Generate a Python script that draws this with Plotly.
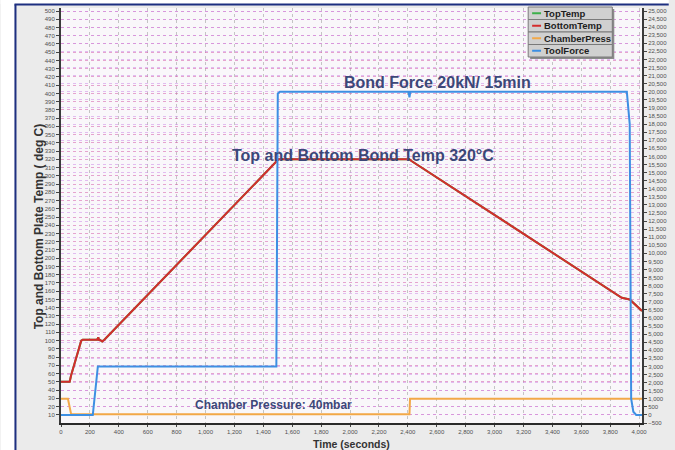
import plotly.graph_objects as go

# ---- process data -------------------------------------------------------
# plate temperatures (deg C) vs time (s)
temp_time = [0, 60, 70, 140, 150, 250, 258, 263, 268, 285, 300, 1505, 1520,
             2410, 2425, 3880, 3935, 4020]
top_temp = [50, 50, 58, 100, 101, 101, 104, 100, 101, 99, 101, 320, 320,
            320, 318, 152, 150, 136]
bottom_temp = [50, 50, 58, 100, 101, 101, 104, 100, 101, 99, 101, 320, 320,
               320, 318, 152, 150, 136]

# chamber pressure (mbar) vs time (s)
press_time = [0, 48, 70, 2411, 2415, 4020]
chamber_press = [1000, 1000, 40, 40, 1000, 1000]

# tool force (N) vs time (s)
force_time = [0, 220, 255, 1490, 1500, 1515, 2405, 2411, 2417, 3915, 3935,
              3945, 3960, 3980, 4020]
tool_force = [0, 0, 3000, 3000, 19900, 20000, 20000, 19650, 20000, 20000,
              18000, 1000, 200, 0, 0]

series_names = ["TopTemp", "BottomTemp", "ChamberPress", "ToolForce"]
series_colors = ["#3cb04a", "#d42c2c", "#f2a848", "#3d8fe3"]

x_ticks = list(range(0, 4001, 200))
left_ticks = list(range(10, 501, 10))
right_ticks = list(range(-500, 25001, 500))

# ---- geometry (pixels) --------------------------------------------------
W, H = 675, 450
PL, PR, PT, PB = 61, 648, 8, 423


def px(p):
    return (p - PL) / (PR - PL)


def py(p):
    return (PB - p) / (PB - PT)


fig = go.Figure()

fig.add_trace(go.Scatter(x=temp_time, y=top_temp, mode="lines",
                         line=dict(color=series_colors[0], width=2),
                         name=series_names[0]))
fig.add_trace(go.Scatter(x=temp_time, y=bottom_temp, mode="lines",
                         line=dict(color=series_colors[1], width=2),
                         name=series_names[1]))
fig.add_trace(go.Scatter(x=press_time, y=chamber_press, mode="lines",
                         line=dict(color=series_colors[2], width=2),
                         name=series_names[2], yaxis="y2"))
fig.add_trace(go.Scatter(x=force_time, y=tool_force, mode="lines",
                         line=dict(color=series_colors[3], width=2),
                         name=series_names[3], yaxis="y2"))

tick_font = dict(family="Liberation Sans, Arial", size=6, color="#505050")

left_max = (PB - PT) / ((PB - 11.0) / 500.0)
fig.update_layout(
    width=W, height=H,
    margin=dict(l=PL, r=W - PR, t=PT, b=H - PB),
    paper_bgcolor="#ebebeb",
    plot_bgcolor="#f9f7fa",
    showlegend=False,
    xaxis=dict(range=[0, 4020], tickvals=x_ticks, tickformat=",",
               tickfont=tick_font, showgrid=True, gridcolor="#c4c4c4",
               griddash="dot", gridwidth=1, zeroline=False,
               showline=True, linecolor="#2a2a2a", linewidth=2,
               ticks="outside", ticklen=2, tickcolor="#444"),
    yaxis=dict(range=[0, left_max], tickvals=left_ticks,
               tickfont=tick_font, showgrid=True,
               gridcolor="rgba(214,96,170,0.55)", griddash="dot",
               zeroline=False, showline=True, linecolor="#3a3a3a",
               linewidth=2, ticks="outside", ticklen=3, tickcolor="#444"),
    yaxis2=dict(range=[-500, -500 + left_max * 51], tickvals=right_ticks,
                tickformat=",", overlaying="y", side="right",
                tickfont=tick_font, showgrid=True,
                gridcolor="rgba(205,140,232,0.55)", griddash="dot",
                zeroline=False, showline=True, linecolor="#3a3a3a",
                linewidth=2, ticks="outside", ticklen=3, tickcolor="#444"),
)

# ---- frame around the panel ---------------------------------------------
shapes = [
    dict(type="rect", xref="paper", yref="paper", x0=px(0), x1=px(14),
         y0=py(H), y1=py(0), fillcolor="white", line=dict(width=0),
         layer="below"),
    dict(type="rect", xref="paper", yref="paper", x0=px(0), x1=px(W),
         y0=py(4), y1=py(0), fillcolor="white", line=dict(width=0),
         layer="below"),
    dict(type="line", xref="paper", yref="paper", x0=px(15), x1=px(15),
         y0=py(H), y1=py(4.5), line=dict(color="#1d2f80", width=2)),
    dict(type="line", xref="paper", yref="paper", x0=px(14), x1=px(W),
         y0=py(4.5), y1=py(4.5), line=dict(color="#1d2f80", width=2)),
]

# ---- legend box ---------------------------------------------------------
LX0, LX1, LY0, LY1 = 533, 618, 7, 57
row_h = (LY1 - LY0) / len(series_names)
shapes.append(dict(type="rect", xref="paper", yref="paper",
                   x0=px(LX0 + 2), x1=px(LX1 + 2), y0=py(LY1 + 2),
                   y1=py(LY0 + 2), fillcolor="#8a8a8a",
                   line=dict(width=0)))
annotations = []
for i, (name, color) in enumerate(zip(series_names, series_colors)):
    r0 = LY0 + i * row_h
    r1 = r0 + row_h
    cy = (r0 + r1) / 2
    shapes.append(dict(type="rect", xref="paper", yref="paper",
                       x0=px(LX0), x1=px(LX1), y0=py(r1), y1=py(r0),
                       fillcolor="#d0d0d0",
                       line=dict(color="#7a7a7a", width=1)))
    shapes.append(dict(type="line", xref="paper", yref="paper",
                       x0=px(LX0 + 4), x1=px(LX0 + 13), y0=py(cy), y1=py(cy),
                       line=dict(color=color, width=2)))
    annotations.append(dict(x=px(LX0 + 14), y=py(cy), xref="paper",
                            yref="paper", text=name, showarrow=False,
                            xanchor="left", yanchor="middle",
                            font=dict(family="Liberation Sans, Arial", size=9.5,
                                      color="#1e1e1e", weight="bold")))

# ---- axis titles --------------------------------------------------------
annotations.append(dict(x=px(30), y=py(226), xref="paper", yref="paper",
                        text="Top and Bottom Plate Temp ( deg C)",
                        textangle=-90, showarrow=False,
                        font=dict(family="Liberation Sans, Arial", size=12,
                                  color="#333333", weight="bold")))
annotations.append(dict(x=px(355), y=py(436), xref="paper", yref="paper",
                        text="Time (seconds)", showarrow=False,
                        yanchor="top",
                        font=dict(family="Liberation Sans, Arial", size=10.5,
                                  color="#333333", weight="bold")))

# ---- process notes ------------------------------------------------------
note_font = dict(family="Liberation Sans, Arial", size=16, color="#3c4778",
                 weight="bold")
annotations.append(dict(x=2603, y=412.7, xref="x", yref="y",
                        text="Bond Force 20kN/ 15min", showarrow=False,
                        font=note_font))
annotations.append(dict(x=2089, y=325, xref="x", yref="y",
                        text="Top and Bottom Bond Temp 320°C",
                        showarrow=False, font=note_font))
annotations.append(dict(x=1469, y=22, xref="x", yref="y",
                        text="Chamber Pressure: 40mbar", showarrow=False,
                        font=dict(family="Liberation Sans, Arial", size=12,
                                  color="#3c4778", weight="bold")))

fig.update_layout(shapes=shapes, annotations=annotations)

fig.write_html("out.html")
